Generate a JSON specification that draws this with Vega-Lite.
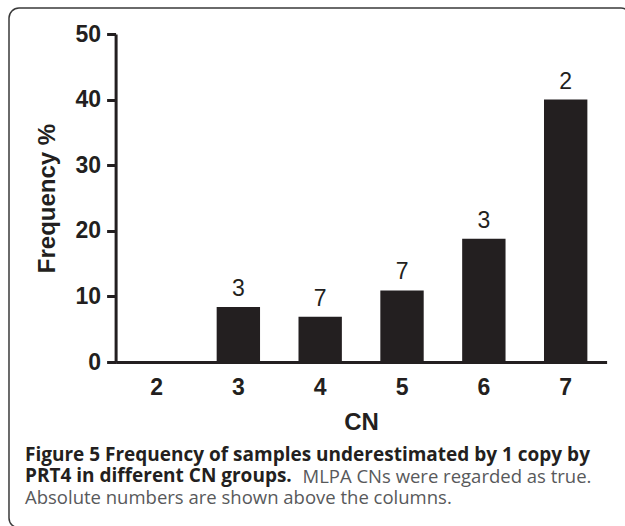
{
  "$schema": "https://vega.github.io/schema/vega-lite/v6.json",
  "width": 622,
  "height": 520,
  "autosize": {"type": "none"},
  "padding": {"left": 9, "top": 8, "right": 0, "bottom": 0},
  "background": "white",
  "config": {"view": {"stroke": "#3a3a3a", "strokeWidth": 1.5, "cornerRadius": 10}},
  "data": {
    "values": [
      {"cn": "2", "freq": 0, "label": ""},
      {"cn": "3", "freq": 8.4, "label": "3"},
      {"cn": "4", "freq": 6.9, "label": "7"},
      {"cn": "5", "freq": 10.9, "label": "7"},
      {"cn": "6", "freq": 18.8, "label": "3"},
      {"cn": "7", "freq": 40.0, "label": "2"}
    ]
  },
  "title": {
    "text": ["Figure 5 Frequency of samples underestimated by 1 copy by", "PRT4 in different CN groups."],
    "subtitle": "Absolute numbers are shown above the columns.",
    "orient": "bottom",
    "anchor": "start",
    "frame": "group",
    "offset": -82,
    "dx": 16,
    "font": "Open Sans",
    "fontSize": 19,
    "fontWeight": "bold",
    "color": "#231f20",
    "lineHeight": 21,
    "subtitleFont": "Open Sans",
    "subtitleFontSize": 18.5,
    "subtitleFontWeight": "normal",
    "subtitleColor": "#58595b",
    "subtitlePadding": 3
  },
  "encoding": {
    "x": {
      "field": "cn",
      "type": "ordinal",
      "sort": null,
      "scale": {"range": [106.6, 597.6], "paddingInner": 0.47, "paddingOuter": 0.235},
      "axis": {
        "orient": "bottom",
        "offset": -166,
        "ticks": false,
        "grid": false,
        "domainColor": "#231f20",
        "domainWidth": 3,
        "labelAngle": 0,
        "labelFont": "Liberation Sans",
        "labelFontSize": 23,
        "labelFontWeight": "bold",
        "labelColor": "#231f20",
        "labelPadding": 14,
        "title": "CN",
        "titleFont": "Liberation Sans",
        "titleFontSize": 24,
        "titleFontWeight": "bold",
        "titleColor": "#231f20",
        "titlePadding": 11
      }
    }
  },
  "layer": [
    {
      "mark": {"type": "bar", "color": "#231f20"},
      "encoding": {
        "y": {
          "field": "freq",
          "type": "quantitative",
          "scale": {"domain": [0, 50], "range": [354, 26], "nice": false},
          "axis": {
            "orient": "left",
            "offset": -106.6,
            "values": [0, 10, 20, 30, 40, 50],
            "grid": false,
            "labelOverlap": false,
            "domainColor": "#231f20",
            "domainWidth": 3,
            "tickColor": "#231f20",
            "tickWidth": 3,
            "tickSize": 9,
            "labelFont": "Liberation Sans",
            "labelFontSize": 23,
            "labelFontWeight": "bold",
            "labelColor": "#231f20",
            "labelPadding": 6,
            "title": "Frequency %",
            "titleFont": "Liberation Sans",
            "titleFontSize": 24,
            "titleFontWeight": "bold",
            "titleColor": "#231f20",
            "titlePadding": 16
          }
        }
      }
    },
    {
      "mark": {"type": "text", "baseline": "alphabetic", "dy": -11, "font": "Liberation Sans", "fontSize": 23, "color": "#231f20"},
      "encoding": {
        "text": {"field": "label"},
        "y": {
          "field": "freq",
          "type": "quantitative",
          "scale": {"domain": [0, 50], "range": [354, 26], "nice": false},
          "axis": {
            "orient": "right",
            "domain": false,
            "ticks": false,
            "labels": false,
            "grid": false,
            "title": "MLPA CNs were regarded as true.",
            "titleAngle": 0,
            "titleX": -329,
            "titleY": 474,
            "titleAlign": "left",
            "titleBaseline": "alphabetic",
            "titleFont": "Open Sans",
            "titleFontSize": 18.5,
            "titleFontWeight": "normal",
            "titleColor": "#58595b"
          }
        }
      }
    }
  ],
  "resolve": {"axis": {"y": "independent"}}
}
